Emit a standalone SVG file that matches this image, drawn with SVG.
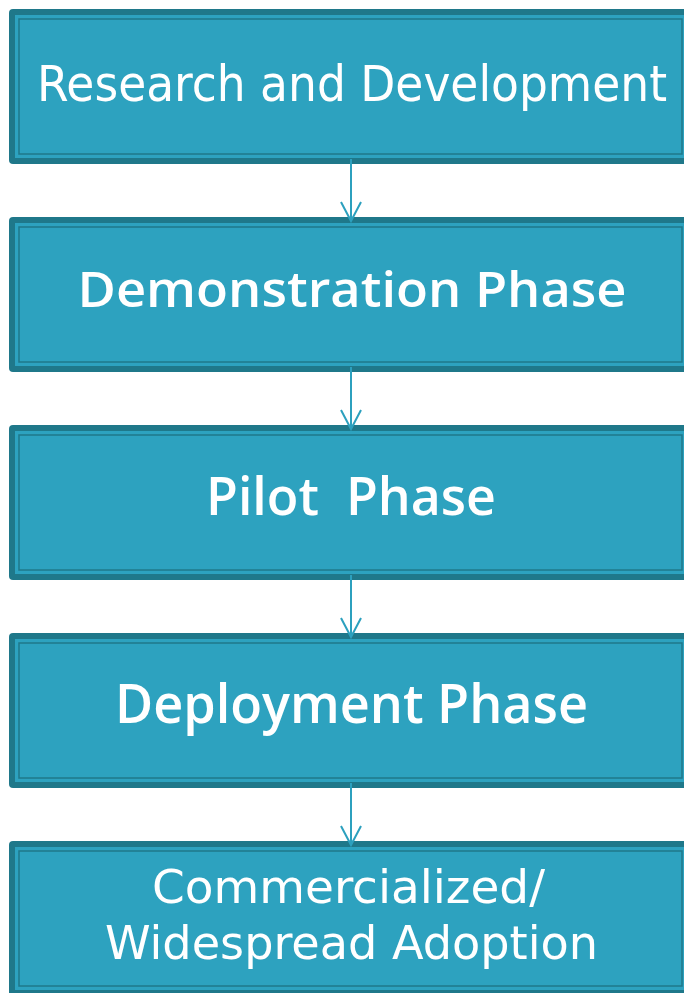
<svg xmlns="http://www.w3.org/2000/svg" width="684" height="993" viewBox="0 0 684 993">
<defs>
<style>
.outer{fill:#1f788a}
.inner{fill:#2da2bf}
.line{fill:none;stroke:#1f788a;stroke-width:1.5}
.t{fill:#ffffff;font-family:"DejaVu Sans Condensed","DejaVu Sans","Liberation Sans",sans-serif;text-anchor:middle}
.b{font-family:"Open Sans","DejaVu Sans","Liberation Sans",sans-serif;font-weight:600}
.conn{fill:none;stroke:#2ca0be;stroke-width:2}
</style>
</defs>
<rect width="684" height="993" fill="#ffffff"/>
<g id="node1">
<rect class="outer" x="9" y="9" width="683" height="155" rx="4"/>
<rect class="inner" x="15" y="15" width="671" height="143"/>
<rect class="line" x="19" y="19" width="663" height="135"/>
<text class="t" x="352" y="101" font-size="50" textLength="630" lengthAdjust="spacingAndGlyphs">Research and Development</text>
</g>
<g id="node2">
<rect class="outer" x="9" y="217" width="683" height="155" rx="4"/>
<rect class="inner" x="15" y="223" width="671" height="143"/>
<rect class="line" x="19" y="227" width="663" height="135"/>
<text class="t b" x="352" y="307" font-size="48" textLength="549" lengthAdjust="spacingAndGlyphs">Demonstration Phase</text>
</g>
<g id="node3">
<rect class="outer" x="9" y="425" width="683" height="155" rx="4"/>
<rect class="inner" x="15" y="431" width="671" height="143"/>
<rect class="line" x="19" y="435" width="663" height="135"/>
<text class="t b" x="351" y="515" font-size="53" textLength="290" lengthAdjust="spacingAndGlyphs" xml:space="preserve">Pilot  Phase</text>
</g>
<g id="node4">
<rect class="outer" x="9" y="633" width="683" height="155" rx="4"/>
<rect class="inner" x="15" y="639" width="671" height="143"/>
<rect class="line" x="19" y="643" width="663" height="135"/>
<text class="t b" x="351.5" y="723" font-size="54" textLength="473" lengthAdjust="spacingAndGlyphs">Deployment Phase</text>
</g>
<g id="node5">
<rect class="outer" x="9" y="841" width="683" height="155" rx="4"/>
<rect class="inner" x="15" y="847" width="671" height="143"/>
<rect class="line" x="19" y="851" width="663" height="135"/>
<text class="t" x="348.5" y="903" font-size="47" textLength="393" lengthAdjust="spacingAndGlyphs">Commercialized/</text>
<text class="t" x="351.5" y="959" font-size="47" textLength="493" lengthAdjust="spacingAndGlyphs">Widespread Adoption</text>
</g>
<g id="connectors">
<path class="conn" d="M351 159V221M341 202L351 221L361 202"/>
<path class="conn" d="M351 367V429M341 410L351 429L361 410"/>
<path class="conn" d="M351 575V637M341 618L351 637L361 618"/>
<path class="conn" d="M351 783V845M341 826L351 845L361 826"/>
</g>
</svg>
